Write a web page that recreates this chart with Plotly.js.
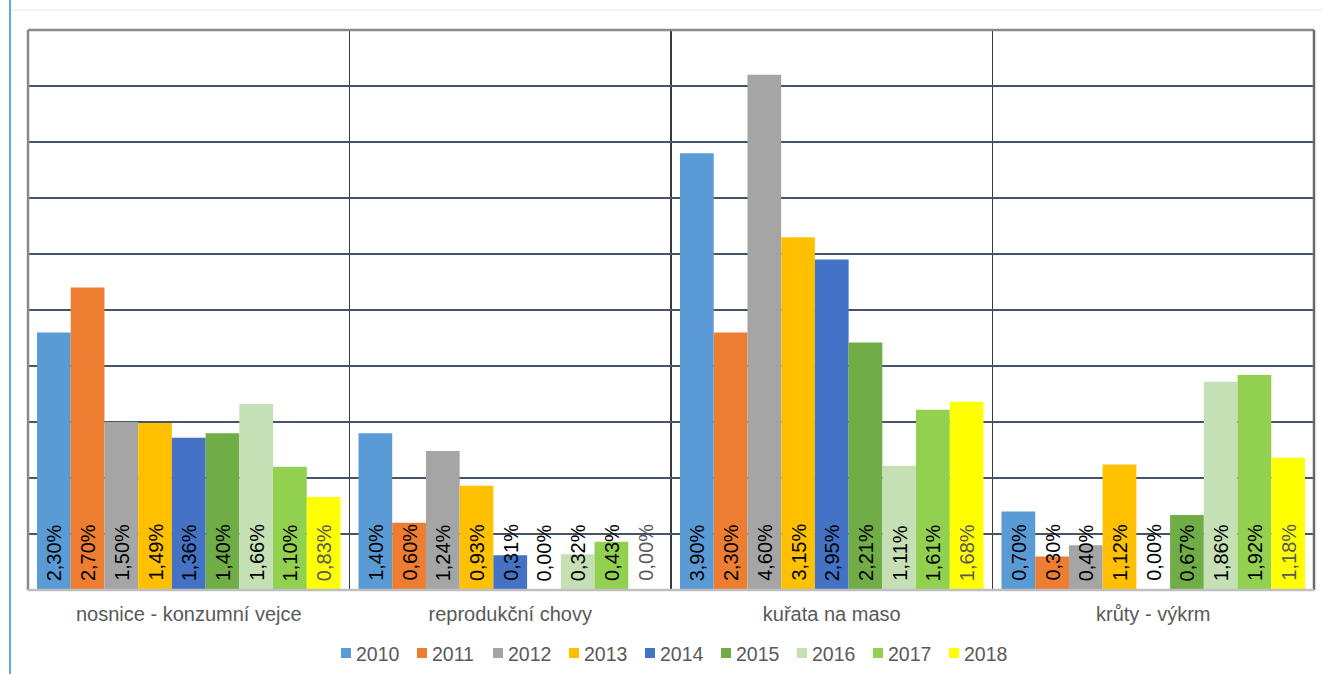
<!DOCTYPE html>
<html><head><meta charset="utf-8">
<script src="https://cdn.plot.ly/plotly-3.0.1.min.js"></script>
<style>html,body{margin:0;padding:0;background:#fff}#chart{width:1322px;height:674px}</style>
</head><body><div id="chart"></div>
<script>
const categories = ['nosnice - konzumní vejce', 'reprodukční chovy', 'kuřata na maso', 'krůty - výkrm'];
const years = ['2010','2011','2012','2013','2014','2015','2016','2017','2018'];
const v2010 = [2.30, 1.40, 3.90, 0.70];
const v2011 = [2.70, 0.60, 2.30, 0.30];
const v2012 = [1.50, 1.24, 4.60, 0.40];
const v2013 = [1.49, 0.93, 3.15, 1.12];
const v2014 = [1.36, 0.31, 2.95, 0.00];
const v2015 = [1.40, 0.00, 2.21, 0.67];
const v2016 = [1.66, 0.32, 1.11, 1.86];
const v2017 = [1.10, 0.43, 1.61, 1.92];
const v2018 = [0.83, 0.00, 1.68, 1.18];
const seriesValues = [v2010, v2011, v2012, v2013, v2014, v2015, v2016, v2017, v2018];
const colors = ['#5B9BD5','#ED7D31','#A5A5A5','#FFC000','#4472C4','#70AD47','#C5E0B4','#92D050','#FFFF00'];
const labelColors = ['#000','#000','#000','#000','#000','#000','#000','#000','#595959'];

const FONT = 'Liberation Sans, Arial, sans-serif';
const W = 1322, H = 674;
const M = {l: 28, r: 8, t: 30, b: 84};
const PW = W - M.l - M.r, PH = H - M.t - M.b;
const bargap = 0.056;
const nS = years.length;
const bw = (1 - bargap) / nS;

const traces = seriesValues.map((vals, j) => ({
  type: 'bar', name: years[j], x: categories, y: vals,
  marker: {color: colors[j], line: {width: 0}},
  hoverinfo: 'x+y+name', showlegend: false
}));

const annotations = [];
seriesValues.forEach((vals, j) => {
  vals.forEach((v, i) => {
    annotations.push({
      x: i - (1 - bargap) / 2 + (j + 0.5) * bw, y: 0, xref: 'x', yref: 'y',
      text: v.toFixed(2).replace('.', ',') + '%',
      showarrow: false, textangle: -90, xanchor: 'center', yanchor: 'bottom',
      yshift: 7, font: {family: FONT, size: 20, color: labelColors[j]}
    });
  });
});

// legend (manual, to match compact spacing)
const px2x = p => (p - M.l) / PW;
const px2y = p => (H - M.b - p) / PH;
const legStart = 341, legStep = 76, legSq = 10, legCy = 653;
const shapes = [];
years.forEach((yr, j) => {
  const x0 = legStart + j * legStep;
  shapes.push({type: 'rect', xref: 'paper', yref: 'paper',
    x0: px2x(x0), x1: px2x(x0 + legSq), y0: px2y(legCy + legSq / 2), y1: px2y(legCy - legSq / 2),
    fillcolor: colors[j], line: {width: 0}});
  annotations.push({xref: 'paper', yref: 'paper', x: px2x(x0 + legSq + 3), y: px2y(legCy + 0.5),
    xanchor: 'left', yanchor: 'middle', showarrow: false, text: yr,
    font: {family: FONT, size: 19.5, color: '#595959'}});
});

shapes.push(
  // page decorations
  {type:'line', xref:'paper', yref:'paper', x0:px2x(10), x1:px2x(10), y0:px2y(H + 5), y1:px2y(-5), line:{color:'#5DADE2', width:2}},
  {type:'line', xref:'paper', yref:'paper', x0:px2x(11), x1:px2x(W + 5), y0:px2y(10), y1:px2y(10), line:{color:'#f0f0f0', width:1.5}},
  // plot border
  {type:'line', xref:'paper', yref:'paper', x0:0, x1:1, y0:1, y1:1, line:{color:'#8a8a8a', width:2.5}},
  {type:'line', xref:'paper', yref:'paper', x0:0, x1:0, y0:0, y1:1, line:{color:'#8a8a8a', width:2.5}},
  {type:'line', xref:'paper', yref:'paper', x0:1, x1:1, y0:0, y1:1, line:{color:'#6a6a6a', width:2.5}},
  {type:'line', xref:'paper', yref:'paper', x0:0, x1:1, y0:0, y1:0, line:{color:'#bfbfbf', width:2.5}}
);

const layout = {
  width: W, height: H,
  margin: M,
  paper_bgcolor: '#fff', plot_bgcolor: '#fff',
  barmode: 'group', bargap: bargap, bargroupgap: 0,
  font: {family: FONT, color: '#595959'},
  xaxis: {type: 'category', tickson: 'boundaries', showgrid: true, gridcolor: '#3a3a3a', gridwidth: 1.5,
          ticks: '', showline: false, zeroline: false, automargin: false,
          tickfont: {family: FONT, size: 20, color: '#595959'}, ticklabelstandoff: 10},
  yaxis: {range: [0, 5], dtick: 0.5, showticklabels: false, showgrid: true, gridcolor: '#44546a', gridwidth: 1.3,
          zeroline: false, showline: false, fixedrange: true, automargin: false},
  showlegend: false,
  annotations: annotations,
  shapes: shapes
};

Plotly.newPlot('chart', traces, layout, {displayModeBar: false, staticPlot: true});
</script>
</body></html>
